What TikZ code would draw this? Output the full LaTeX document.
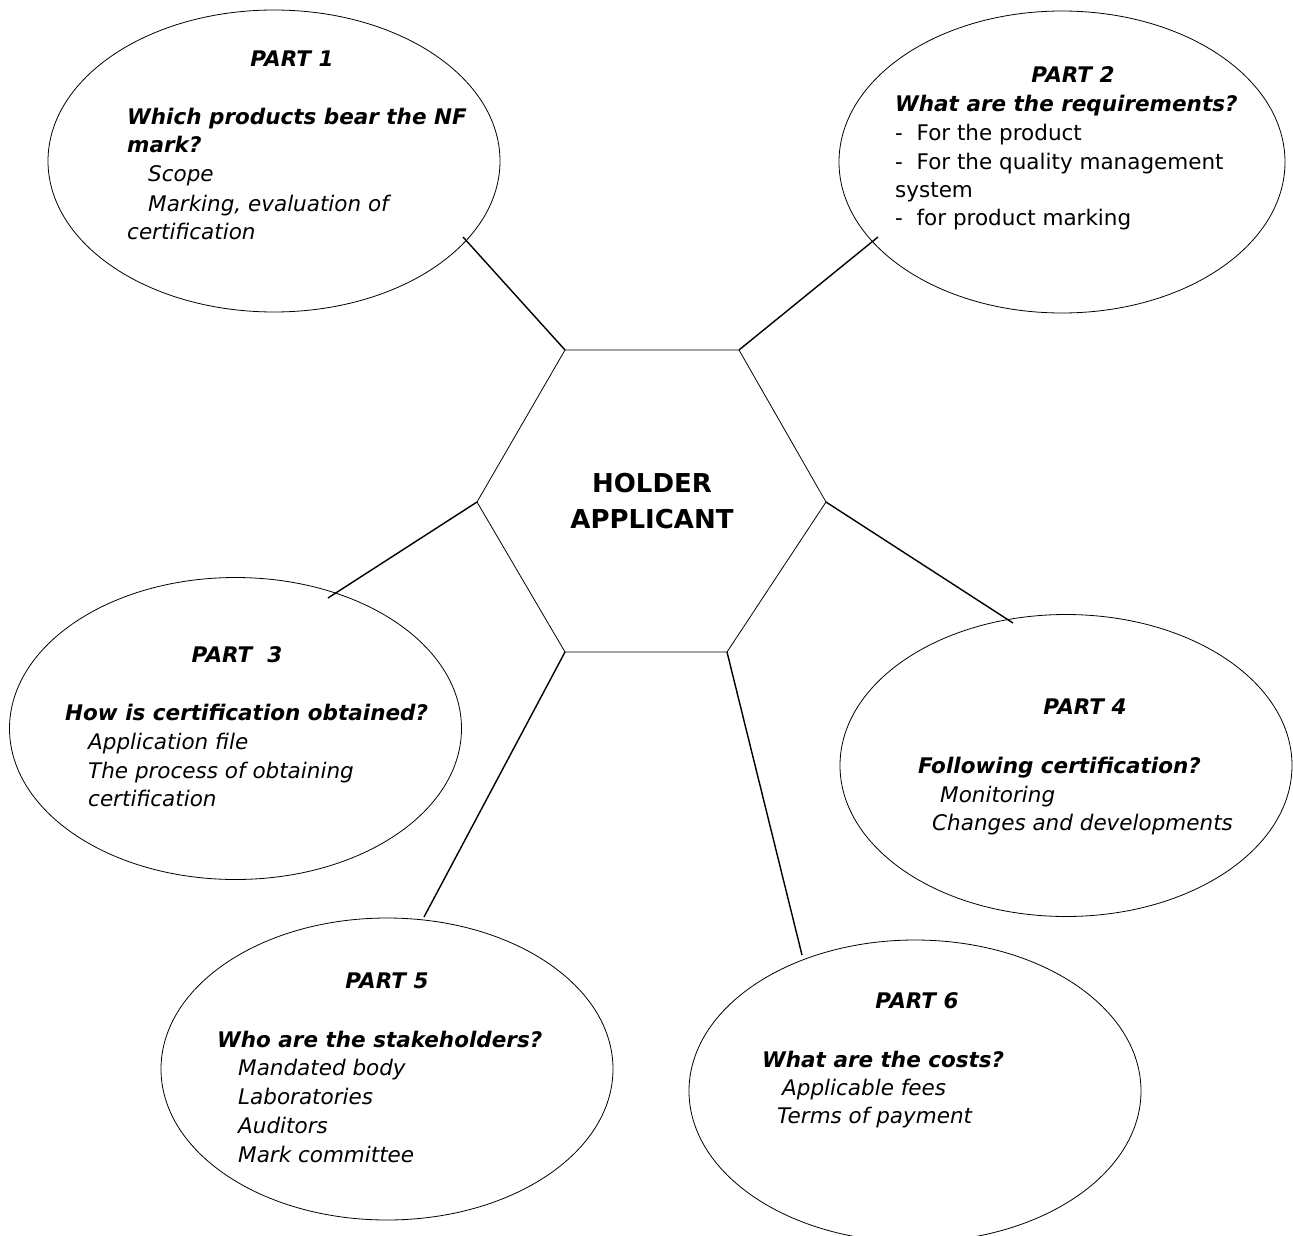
\documentclass[tikz,border=0pt]{standalone}
\usepackage{fontspec}
\setmainfont{DejaVu Sans}
\usetikzlibrary{shapes.geometric}
\tikzset{
  bubble/.style={draw, line width=0.8pt, ellipse, inner sep=0pt, minimum width=452pt, minimum height=302pt},
  hexline/.style={draw, line width=0.8pt, line join=miter},
  link/.style={draw, line width=1.4pt},
  txt/.style={anchor=base west, inner sep=0pt, font=\fontsize{21.5}{26}\selectfont\itshape},
  rg/.style={anchor=base west, inner sep=0pt, font=\fontsize{21.5}{26}\selectfont},
  hd/.style={anchor=base west, inner sep=0pt, font=\fontsize{21.5}{26}\selectfont\bfseries\itshape},
  ttl/.style={anchor=base, inner sep=0pt, font=\fontsize{21.5}{26}\selectfont\bfseries\itshape},
  ctr/.style={anchor=base, inner sep=0pt, font=\fontsize{26}{30}\selectfont\bfseries}
}
\begin{document}
\begin{tikzpicture}[x=1pt,y=-1pt]
\useasboundingbox (0,0) rectangle (1293,1236);
\fill[white] (0,0) rectangle (1293,1236);

% central hexagon corners
\coordinate (h1) at (565,350);
\coordinate (h2) at (739,350);
\coordinate (h3) at (826,502);
\coordinate (h4) at (727,652);
\coordinate (h5) at (565,652);
\coordinate (h6) at (477,502);
\draw[hexline] (h1) -- (h2) -- (h3) -- (h4) -- (h5) -- (h6) -- cycle;
\node[ctr] (hold) at (652,492) {HOLDER};
\node[ctr] (appl) at (652,528) {APPLICANT};

% ellipses
\node[bubble] (e1) at (274,161) {};
\node[bubble, minimum width=446pt] (e2) at (1062,162) {};
\node[bubble] (e3) at (235.5,728.5) {};
\node[bubble] (e4) at (1066,765.5) {};
\node[bubble] (e5) at (387,1069) {};
\node[bubble] (e6) at (915,1091) {};

% connector ends on ellipses
\coordinate (c1) at (463,237);
\coordinate (c2) at (878,237);
\coordinate (c3) at (328,598);
\coordinate (c4) at (1013,623);
\coordinate (c5) at (424,917);
\coordinate (c6) at (802,955);

\draw[link] (h1) -- (c1);
\draw[link] (h2) -- (c2);
\draw[link] (h6) -- (c3);
\draw[link] (h3) -- (c4);
\draw[link] (h5) -- (c5);
\draw[link] (h4) -- (c6);

% PART 1
\node[ttl] (p1t) at (292,67) {PART 1};
\node[hd] (p1a) at (127,125) {Which products bear the NF};
\node[hd] (p1b) at (127,153) {mark?};
\node[txt] (p1c) at (148,182) {Scope};
\node[txt] (p1d) at (148,211) {Marking, evaluation of};
\node[txt] (p1e) at (127,239) {certification};

% PART 2
\node[ttl] (p2t) at (1073,83) {PART 2};
\node[hd] (p2a) at (895,112) {What are the requirements?};
\node[rg] (p2b) at (895,141) {-\ \ For the product};
\node[rg] (p2c) at (895,169) {-\ \ For the quality management};
\node[rg] (p2d) at (895,197) {system};
\node[rg] (p2e) at (895,225) {-\ \ for product marking};

% PART 3
\node[ttl] (p3t) at (237,662) {PART\ \ 3};
\node[hd] (p3a) at (65,720) {How is certification obtained?};
\node[txt] (p3b) at (88,749) {Application file};
\node[txt] (p3c) at (88,778) {The process of obtaining};
\node[txt] (p3d) at (88,806) {certification};

% PART 4
\node[ttl] (p4t) at (1085,714) {PART 4};
\node[hd] (p4a) at (918,773) {Following certification?};
\node[txt] (p4b) at (940,802) {Monitoring};
\node[txt] (p4c) at (932,830) {Changes and developments};

% PART 5
\node[ttl] (p5t) at (387,988) {PART 5};
\node[hd] (p5a) at (217,1047) {Who are the stakeholders?};
\node[txt] (p5b) at (238,1075) {Mandated body};
\node[txt] (p5c) at (238,1104) {Laboratories};
\node[txt] (p5d) at (238,1133) {Auditors};
\node[txt] (p5e) at (238,1162) {Mark committee};

% PART 6
\node[ttl] (p6t) at (917,1008) {PART 6};
\node[hd] (p6a) at (762,1067) {What are the costs?};
\node[txt] (p6b) at (782,1095) {Applicable fees};
\node[txt] (p6c) at (777,1123) {Terms of payment};
\end{tikzpicture}
\end{document}
